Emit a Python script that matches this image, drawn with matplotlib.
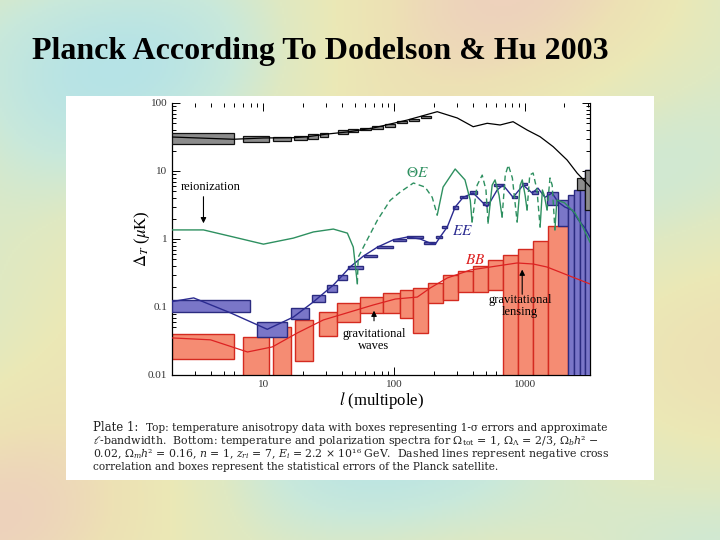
import numpy as np
import matplotlib
matplotlib.use('Agg')
import matplotlib.pyplot as plt
from matplotlib.colors import LinearSegmentedColormap
from matplotlib.ticker import FixedLocator, FixedFormatter, LogLocator, NullFormatter

plt.rcParams['font.family'] = ['Liberation Serif', 'DejaVu Serif']
plt.rcParams['mathtext.fontset'] = 'stix'

# temperature (TT) curve
tt_l = [2.0, 5.9, 10, 16.9, 21.7, 30.8, 43.8, 55, 69, 126, 213, 303, 401, 513, 644, 809,
        1035, 1302, 1638, 2094, 2500, 2800, 3130]
tt_v = [31.6, 29.3, 30.6, 30.9, 31.9, 35, 37.5, 40.1, 42.9, 56.2, 74.5, 60.2, 44.8, 50.3,
        47.5, 53.1, 40.1, 31.9, 22.8, 14.5, 9.3, 7.4, 5.9]

# TT error boxes: l range and value range
tt_box_l0 = [2, 7.0, 11.9, 17.2, 22, 27.2, 37, 44.5, 55, 68, 85, 105, 130, 160, 2500, 2870]
tt_box_l1 = [6, 11.1, 16.1, 21.7, 26.3, 31.3, 44, 53, 66, 82, 102, 125, 155, 190, 2870, 3130]
tt_box_lo = [24.9, 26.9, 27.5, 28.5, 30, 32, 35, 37.5, 39.5, 42, 45, 50, 55, 61, 5.3, 2.7]
tt_box_hi = [35.8, 32.4, 31.9, 33, 34.5, 36.5, 39.5, 42, 43, 45.5, 48.5, 53.5, 59, 65, 8, 10.3]

# Theta-E cross spectrum (signed: negative parts are dashed)
te_l = [2.0, 3.48, 5.9, 10, 16.9, 24.1, 34.2, 43.8, 48.6, 52.2,
        52.2, 53, 62, 74.4, 93, 111, 140, 172, 195, 213,
        213, 236, 292, 347, 381, 393,
        393, 430, 470, 502, 521,
        521, 560, 589, 632, 667,
        667, 705, 744, 799, 869,
        869, 917, 951, 1000, 1035,
        1035, 1085, 1151, 1232, 1302,
        1302, 1355, 1400, 1472,
        1472, 1550, 1610, 1690,
        1690, 1750, 2005, 2410, 2760, 3130]
te_v = [1.36, 1.36, 1.07, 0.84, 1.03, 1.27, 1.40, 1.22, 0.76, 0.22,
        -0.22, -0.54, -0.97, -1.9, -3.7, -4.9, -6.66, -5.8, -4.1, -2.25,
        2.25, 5.8, 10.7, 7.4, 3.7, 1.78,
        -1.78, -6.2, -8.7, -5.26, -1.72,
        1.72, 6.2, 7.4, 4.4, 2.1,
        -2.1, -8.7, -12.2, -7.9, -1.78,
        1.78, 6.2, 7.4, 4.4, 2.67,
        -2.67, -8.7, -9.35, -5.26, -1.5,
        1.5, 5.26, 4.4, 2.67,
        -2.67, -7.9, -6.2, -1.36,
        1.36, 3.74, 3.4, 2.4, 1.5, 0.9]

# E-mode polarization
ee_l = [2.0, 2.93, 5.6, 10.7, 16.9, 24.1, 34.2, 38.7, 46.1, 58, 74.4, 98, 126, 158, 188,
        206, 224, 254, 292, 336, 401, 513, 611, 679, 809, 966, 1131, 1253, 1418, 1608,
        1786, 2013, 2284, 2559, 2873, 3130]
ee_v = [0.12, 0.136, 0.082, 0.047, 0.071, 0.119, 0.21, 0.27, 0.39, 0.56, 0.76, 0.97,
        1.07, 1.0, 0.87, 0.84, 1.07, 1.5, 2.95, 4.1, 4.75, 2.95, 5.25, 6.2, 4.1, 6.2,
        4.75, 5.6, 4.1, 4.75, 3.5, 2.95, 2.67, 1.9, 1.45, 1.07]

ee_box_l0 = [2, 9.0, 16.1, 23.7, 30.8, 37.3, 44.5, 59, 74, 98, 126, 170, 210, 230, 280,
             320, 380, 480, 580, 790, 940, 1130, 1472, 1786, 2128, 2366, 2630, 2873]
ee_box_l1 = [7.96, 15.2, 22.1, 29.7, 36.8, 43.8, 58, 74, 98, 123, 165, 205, 230, 254, 305,
             360, 430, 530, 690, 860, 1030, 1250, 1786, 2128, 2366, 2630, 2873, 3133]
ee_box_lo = [0.085, 0.0366, 0.0666, 0.118, 0.166, 0.249, 0.36, 0.54, 0.74, 0.95, 1.05,
             0.85, 1.02, 1.45, 2.8, 4.0, 4.6, 3.2, 6.0, 4.0, 6.3, 4.6, 3.16, 1.55,
             0.005, 0.005, 0.005, 0.005]
ee_box_hi = [0.127, 0.061, 0.097, 0.150, 0.211, 0.296, 0.40, 0.58, 0.78, 1.0, 1.11, 0.90,
             1.1, 1.55, 3.05, 4.3, 5.0, 3.45, 6.4, 4.3, 6.7, 5.0, 4.91, 3.74, 4.43, 5.26,
             7.37, 10.3]

# B-mode polarization
bb_l = [2.0, 3.94, 7.55, 11.7, 18.2, 28.7, 48.6, 69, 101.8, 150, 188, 254, 381, 539, 869,
        1151, 1472, 2094, 3133]
bb_v = [0.0351, 0.0329, 0.0218, 0.0259, 0.0416, 0.0645, 0.0874, 0.107, 0.131, 0.140,
        0.19, 0.267, 0.35, 0.387, 0.444, 0.429, 0.387, 0.296, 0.218]

bb_box_l0 = [2, 7.0, 11.9, 17.5, 26.6, 36.7, 55, 82, 111, 140, 182, 236, 307, 400, 521,
             680, 885, 1150, 1500]
bb_box_l1 = [6, 11.1, 16.1, 24, 36.7, 55, 82, 111, 140, 182, 236, 307, 400, 521, 680,
             885, 1150, 1500, 2128]
bb_box_lo = [0.017, 0.005, 0.005, 0.016, 0.037, 0.060, 0.082, 0.082, 0.070, 0.041, 0.115,
             0.127, 0.166, 0.166, 0.178, 0.005, 0.005, 0.005, 0.005]
bb_box_hi = [0.040, 0.036, 0.051, 0.064, 0.084, 0.115, 0.14, 0.16, 0.178, 0.19, 0.225,
             0.295, 0.338, 0.40, 0.49, 0.58, 0.71, 0.93, 1.55]

y_ticks = [0.01, 0.1, 1, 10, 100]
y_labels = ['0.01', '0.1', '1', '10', '100']
x_ticks = [10, 100, 1000]
x_labels = ['10', '100', '1000']

fig = plt.figure(figsize=(7.2, 5.4), dpi=100)

# slide background (soft pastel CMB-like map)
bg = fig.add_axes([0, 0, 1, 1], zorder=-10)
yy, xx = np.mgrid[0:1:270j, 0:1:360j]
field = (np.sin(5.0 * xx + 1.3) * np.cos(4.0 * yy - 0.5)
         + 0.7 * np.sin(8.0 * xx - 6.0 * yy + 2.0) + 0.5 * np.cos(10.0 * yy + 3.0 * xx))
cmap = LinearSegmentedColormap.from_list(
    'slide', ['#b6e3e6', '#c8e8db', '#dfe9c2', '#ebe8b6', '#ede1b4', '#eed2bc'])
bg.imshow(field, cmap=cmap, aspect='auto', extent=[0, 1, 0, 1], origin='lower')
bg.axis('off')

# white panel holding the figure
panel = fig.add_axes([66 / 720, 1 - 480 / 540, 588 / 720, 384 / 540], zorder=-5)
panel.set_facecolor('white')
panel.set_xticks([])
panel.set_yticks([])
for s in panel.spines.values():
    s.set_visible(False)

fig.text(32 / 720, 1 - 59 / 540, 'Planck According To Dodelson & Hu 2003',
         fontsize=23, fontweight='bold', family='Liberation Serif', va='baseline')

ax = fig.add_axes([172 / 720, 1 - 375 / 540, 418 / 720, 272 / 540])
ax.set_xscale('log')
ax.set_yscale('log')
ax.set_xlim(2, 3133)
ax.set_ylim(0.01, 100)

# boxes
ax.bar(bb_box_l0, np.array(bb_box_hi) - np.array(bb_box_lo),
       width=np.array(bb_box_l1) - np.array(bb_box_l0), bottom=bb_box_lo, align='edge',
       color='#f58c73', edgecolor='#d42a20', linewidth=1.0, zorder=2)
ax.bar(ee_box_l0, np.array(ee_box_hi) - np.array(ee_box_lo),
       width=np.array(ee_box_l1) - np.array(ee_box_l0), bottom=ee_box_lo, align='edge',
       color='#7a76c8', edgecolor='#2b2b80', linewidth=1.0, zorder=3)
ax.bar(tt_box_l0, np.array(tt_box_hi) - np.array(tt_box_lo),
       width=np.array(tt_box_l1) - np.array(tt_box_l0), bottom=tt_box_lo, align='edge',
       color='#8c8c8c', edgecolor='#111111', linewidth=0.9, zorder=3)

# curves
ax.plot(tt_l, tt_v, color='black', lw=0.9, zorder=4)
ax.plot(ee_l, ee_v, color='#2b2b90', lw=1.0, zorder=4)
ax.plot(bb_l, bb_v, color='#dd2222', lw=0.9, zorder=4)

te_green = '#2e9060'
seg_l, seg_v = [te_l[0]], [te_v[0]]
for i in range(1, len(te_l)):
    if np.sign(te_v[i]) != np.sign(te_v[i - 1]):
        ls = '-' if seg_v[0] > 0 else (0, (4, 2.5))
        ax.plot(seg_l, np.abs(seg_v), color=te_green, lw=1.0, ls=ls, zorder=4)
        seg_l, seg_v = [], []
    seg_l.append(te_l[i])
    seg_v.append(te_v[i])
ls = '-' if seg_v[0] > 0 else (0, (4, 2.5))
ax.plot(seg_l, np.abs(seg_v), color=te_green, lw=1.0, ls=ls, zorder=4)

# axes styling
ax.spines['top'].set_visible(False)
for s in ['left', 'right', 'bottom']:
    ax.spines[s].set_linewidth(0.9)
ax.xaxis.set_major_locator(FixedLocator(x_ticks))
ax.xaxis.set_major_formatter(FixedFormatter(x_labels))
ax.xaxis.set_minor_locator(LogLocator(base=10, subs=np.arange(2, 10)))
ax.xaxis.set_minor_formatter(NullFormatter())
ax.yaxis.set_major_locator(FixedLocator(y_ticks))
ax.yaxis.set_major_formatter(FixedFormatter(y_labels))
ax.yaxis.set_minor_locator(LogLocator(base=10, subs=np.arange(2, 10)))
ax.yaxis.set_minor_formatter(NullFormatter())
ax.tick_params(which='both', direction='in', top=True, right=True, labelsize=8,
               labelcolor='#333333', width=0.7)
ax.tick_params(which='major', length=6)
ax.tick_params(which='minor', length=3)

ax.set_xlabel('$l$ (multipole)', fontsize=12, labelpad=1)
ax.set_ylabel(r'$\Delta_T$ ($\mu$K)', fontsize=12, labelpad=-3)

# annotations
ax.text(3.94, 5.8, 'reionization', fontsize=9, ha='center', va='center', zorder=6)
ax.annotate('', xy=(3.48, 1.55), xytext=(3.48, 4.6),
            arrowprops=dict(arrowstyle='-|>', color='black', lw=0.8, mutation_scale=8))
ax.text(150, 9.5, r'$\Theta E$', color=te_green, fontsize=11, ha='center', va='center')
ax.text(330, 1.3, r'$EE$', color='#2b2b90', fontsize=11, ha='center', va='center')
ax.text(415, 0.49, r'$BB$', color='#dd2222', fontsize=11, ha='center', va='center')
ax.text(70, 0.033, 'gravitational\nwaves', fontsize=9, ha='center', va='center',
        linespacing=1.05, zorder=6)
ax.annotate('', xy=(70, 0.097), xytext=(70, 0.057),
            arrowprops=dict(arrowstyle='-|>', color='black', lw=0.8, mutation_scale=8))
ax.text(916, 0.103, 'gravitational\nlensing', fontsize=9, ha='center', va='center',
        linespacing=1.05, zorder=6)
ax.annotate('', xy=(950, 0.39), xytext=(950, 0.14),
            arrowprops=dict(arrowstyle='-|>', color='black', lw=0.8, mutation_scale=8),
            zorder=6)

# caption
cap = dict(va='baseline', color='#222222', family='DejaVu Serif',
           math_fontfamily='dejavuserif')
cap_x = 93 / 720
fig.text(cap_x, 1 - 431 / 540, 'Plate 1:', fontsize=8.5, **cap)
fig.text(146 / 720, 1 - 431 / 540,
         'Top: temperature anisotropy data with boxes representing 1-σ errors and approximate',
         fontsize=7.6, **cap)
fig.text(cap_x, 1 - 444 / 540,
         r'$\ell$-bandwidth.  Bottom: temperature and polarization spectra for $\Omega_{\rm tot}$ = 1, $\Omega_\Lambda$ = 2/3, $\Omega_b h$² −',
         fontsize=7.9, **cap)
fig.text(cap_x, 1 - 457 / 540,
         r'0.02, $\Omega_m h$² = 0.16, $n$ = 1, $z_{ri}$ = 7, $E_i$ = 2.2 × 10¹⁶ GeV.  Dashed lines represent negative cross',
         fontsize=7.8, **cap)
fig.text(cap_x, 1 - 470 / 540,
         'correlation and boxes represent the statistical errors of the Planck satellite.',
         fontsize=7.6, **cap)

fig.savefig('out.png', dpi=100)
